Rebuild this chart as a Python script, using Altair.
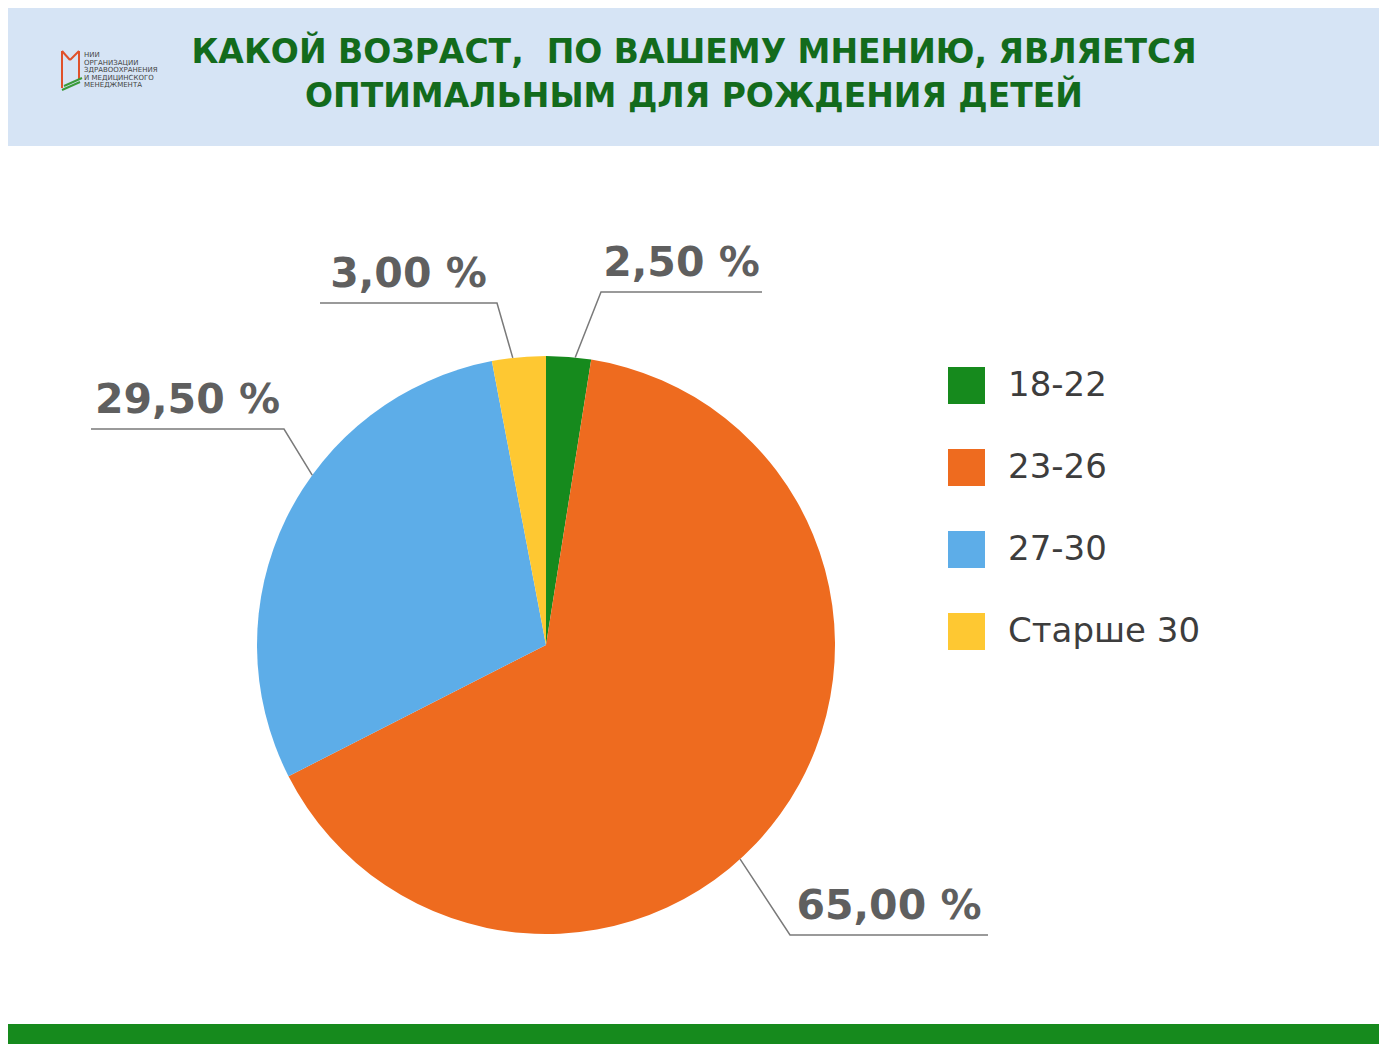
import math
import altair as alt
import pandas as pd

# ---- data ----
categories = ["18-22", "23-26", "27-30", "Старше 30"]
shares = [2.5, 65.0, 29.5, 3.0]
colors = ["#168a1d", "#ee6b1f", "#5dade8", "#fec832"]
title_lines = ["КАКОЙ ВОЗРАСТ,\u00a0 ПО ВАШЕМУ МНЕНИЮ, ЯВЛЯЕТСЯ",
               "ОПТИМАЛЬНЫМ ДЛЯ РОЖДЕНИЯ ДЕТЕЙ"]
logo_lines = ["НИИ", "ОРГАНИЗАЦИИ", "ЗДРАВООХРАНЕНИЯ", "И МЕДИЦИНСКОГО", "МЕНЕДЖМЕНТА"]

# ---- layout ----
W, H = 1371, 1036
CX, CY, R = 538, 637, 289
# leader layout per slice: anchor angle on rim (deg, clockwise from north),
# elbow offset from pie centre, horizontal run length
leader_anchor = [5.8, 137.8, 306.0, 353.4]
leader_elbow = [(55, -353), (244, 290), (-262, -216), (-49, -342)]
leader_run = [161, 198, -193, -177]

pie_df = pd.DataFrame({"cat": categories, "value": shares, "idx": range(len(categories))})

line_rows, text_rows = [], []
for c, v, a, (ex, ey), run in zip(categories, shares, leader_anchor, leader_elbow, leader_run):
    sx = CX + R * math.sin(math.radians(a))
    sy = CY - R * math.cos(math.radians(a))
    px, py = CX + ex, CY + ey
    line_rows += [
        {"cat": c, "s": 0, "px": sx, "py": sy},
        {"cat": c, "s": 1, "px": px, "py": py},
        {"cat": c, "s": 2, "px": px + run, "py": py},
    ]
    text_rows.append({"cat": c, "label": f"{v:.2f}".replace(".", ",") + " %",
                      "tx": px + run / 2, "ty": py - 16})
line_df = pd.DataFrame(line_rows)
text_df = pd.DataFrame(text_rows)

xs = alt.Scale(domain=[0, W], nice=False, zero=False)
ys = alt.Scale(domain=[H, 0], nice=False, zero=False)

one = pd.DataFrame({"k": [0]})

header = alt.Chart(one).mark_rect(color="#d6e4f5").encode(
    x=alt.value(0), x2=alt.value(W), y=alt.value(0), y2=alt.value(138))
footer = alt.Chart(one).mark_rect(color="#168a1d").encode(
    x=alt.value(0), x2=alt.value(W), y=alt.value(1016), y2=alt.value(H))

title1 = alt.Chart(pd.DataFrame({"t": [title_lines[0]]})).mark_text(
    font="DejaVu Sans", fontWeight="bold", fontSize=33, color="#136b1c",
    align="center", baseline="alphabetic").encode(
    x=alt.value(686), y=alt.value(55), text="t:N")
title2 = alt.Chart(pd.DataFrame({"t": [title_lines[1]]})).mark_text(
    font="DejaVu Sans", fontWeight="bold", fontSize=33, color="#136b1c",
    align="center", baseline="alphabetic").encode(
    x=alt.value(686), y=alt.value(99), text="t:N")

logo_df = pd.DataFrame({"t": logo_lines, "i": range(len(logo_lines))})
logo_df["ly"] = 47 + logo_df["i"] * 7.6
logo_text = alt.Chart(logo_df).mark_text(
    font="DejaVu Sans", fontSize=7, color="#444444", align="left", baseline="middle").encode(
    x=alt.value(76), y=alt.Y("ly:Q", scale=ys, axis=None), text="t:N")
logo_r1 = alt.Chart(one).mark_rule(color="#e0512a", strokeWidth=2).encode(
    x=alt.value(54), x2=alt.value(54), y=alt.value(43), y2=alt.value(80))
logo_r2 = alt.Chart(one).mark_rule(color="#e0512a", strokeWidth=2).encode(
    x=alt.value(71), x2=alt.value(71), y=alt.value(43), y2=alt.value(72))
logo_r3 = alt.Chart(one).mark_rule(color="#e0512a", strokeWidth=2).encode(
    x=alt.value(54), x2=alt.value(62), y=alt.value(43), y2=alt.value(52))
logo_r4 = alt.Chart(one).mark_rule(color="#e0512a", strokeWidth=2).encode(
    x=alt.value(62), x2=alt.value(71), y=alt.value(52), y2=alt.value(43))
logo_g1 = alt.Chart(one).mark_rule(color="#3a9a3a", strokeWidth=2).encode(
    x=alt.value(54), x2=alt.value(72), y=alt.value(82), y2=alt.value(74))
logo_g2 = alt.Chart(one).mark_rule(color="#3a9a3a", strokeWidth=2).encode(
    x=alt.value(56), x2=alt.value(74), y=alt.value(78), y2=alt.value(70))

pie = alt.Chart(pie_df).mark_arc(radius=R).encode(
    theta=alt.Theta("value:Q", stack=True),
    color=alt.Color("cat:N", scale=alt.Scale(domain=categories, range=colors),
                    legend=alt.Legend(orient="none", legendX=940, legendY=359, title=None,
                                      direction="vertical", symbolType="square",
                                      symbolSize=1369, symbolStrokeWidth=0, symbolOpacity=1,
                                      labelFont="DejaVu Sans", labelFontSize=34,
                                      labelColor="#3d3d3d", labelOffset=23,
                                      labelLimit=400, rowPadding=45, padding=0)),
    order=alt.Order("idx:Q"),
    x=alt.value(CX), y=alt.value(CY),
)

leaders = alt.Chart(line_df).mark_line(color="#7a7a7a", strokeWidth=1.5).encode(
    x=alt.X("px:Q", scale=xs, axis=None),
    y=alt.Y("py:Q", scale=ys, axis=None),
    detail="cat:N", order="s:Q")

labels = alt.Chart(text_df).mark_text(
    font="DejaVu Sans", fontWeight="bold", fontSize=41, color="#5f5f5f",
    align="center", baseline="alphabetic").encode(
    x=alt.X("tx:Q", scale=xs, axis=None),
    y=alt.Y("ty:Q", scale=ys, axis=None),
    text="label:N")

chart = alt.layer(header, footer, title1, title2, logo_text, logo_r1, logo_r2, logo_r3,
                  logo_r4, logo_g1, logo_g2, pie, leaders, labels).properties(
    width=W, height=H, padding=0, background="white",
    autosize=alt.AutoSizeParams(type="none"),
).configure_view(strokeWidth=0)

chart.save("out.html", embed_options={"renderer": "svg", "actions": False})
